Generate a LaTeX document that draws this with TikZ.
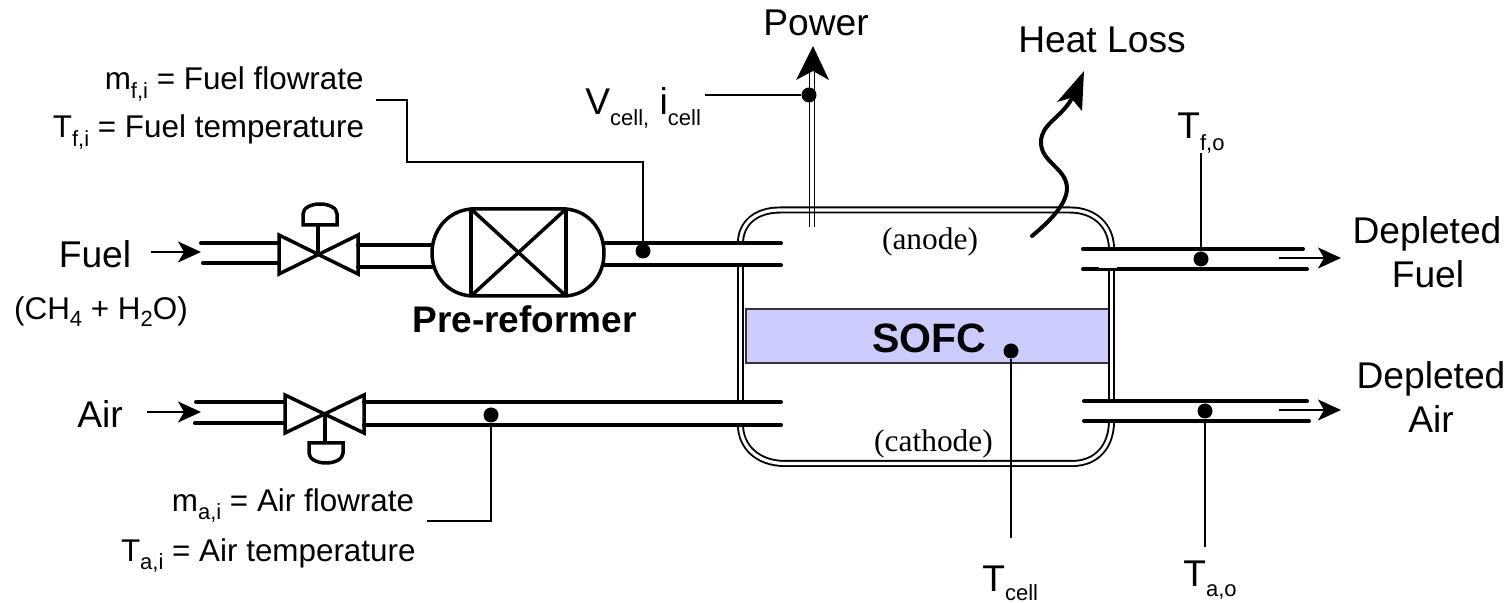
\documentclass[tikz,border=0pt]{standalone}
\usepackage{fontspec}
\usepackage{tikz}
\usetikzlibrary{arrows.meta}
\setmainfont{Liberation Sans}
\newfontfamily\serifpart{Liberation Serif}
\newcommand{\subtxt}[2][4.7pt]{\raisebox{-#1}{\fontsize{11}{11}\selectfont #2}}
\definecolor{cellblue}{HTML}{CCCCFF}
\tikzset{
    bigtext/.style={inner sep=0pt, anchor=base, font=\fontsize{18.6}{21}\selectfont},
    smalltext/.style={inner sep=0pt, anchor=base east, font=\fontsize{15.7}{17}\selectfont},
    zonetext/.style={inner sep=0pt, anchor=base, font=\serifpart\fontsize{15.7}{17}\selectfont},
    tagtext/.style={bigtext, anchor=base west},
    pipe/.style={line width=2pt, line cap=round},
    equip/.style={line width=1.75pt, line join=miter},
    signal/.style={line width=1pt},
    wall/.style={line width=.95pt, double, double distance=1.6pt},
    flow/.style={line width=1pt, -{Stealth[length=11.5pt, width=10.5pt, inset=3pt]}},
    probe/.style={circle, fill=black, inner sep=0pt, minimum size=7.5pt},
}
\begin{document}
\begin{tikzpicture}[x=.5pt, y=-.5pt]
    \useasboundingbox (0,0) rectangle (1511,603);

    % cell
    \node (stack) at (927.5,336) [draw=black!80, line width=.75pt, fill=cellblue, inner sep=0pt, minimum width=181.5pt, minimum height=27pt] {};
    \node (SOFC) at (929.5,353) [inner sep=0pt, anchor=base, font=\bfseries\fontsize{20.5}{22}\selectfont] {SOFC};
    \draw[wall] (740.5,243) .. controls (740.5,224) and (755,210) .. (780,210) -- (1070,210) .. controls (1095,210) and (1111.5,226) .. (1111.5,249);
    \draw[wall] (740.5,265) -- (740.5,403);
    \draw[wall] (1111.5,269) -- (1111.5,401);
    \draw[wall] (740.5,425) .. controls (740.5,446) and (757,463.5) .. (785,463.5) -- (1072,463.5) .. controls (1097,463.5) and (1111.5,446) .. (1111.5,421);

    % fuel line
    \draw[pipe] (201,243) -- (279,243);
    \draw[pipe] (203,263) -- (279,263);
    \draw[pipe] (358,245) -- (432,245);
    \draw[pipe] (358,267) -- (432,267);
    \draw[pipe] (604,243.5) -- (781,243.5);
    \draw[pipe] (604,265.5) -- (781,265.5);

    % fuel valve
    \draw[equip] (279,235) -- (358,274) -- (358,235) -- (279,274) -- cycle;
    \draw[equip] (318,254) -- (318,225);
    \draw[equip] (303,225) -- (337,225) -- (337,214) .. controls (337,208) and (329,204) .. (320,204) .. controls (311,204) and (303,208) .. (303,214) -- cycle;

    % pre-reformer
    \draw[equip] (471,209) .. controls (447,211) and (432,231) .. (432,253) .. controls (432,275) and (447,294) .. (471,296) -- (566,296) .. controls (590,294) and (604,275) .. (604,253) .. controls (604,231) and (590,211) .. (566,209) -- cycle;
    \draw[equip] (471,209) -- (471,296);
    \draw[equip] (566,209) -- (566,296);
    \draw[equip] (471,209) -- (566,296);
    \draw[equip] (566,209) -- (471,296);

    % air line
    \draw[pipe] (196,402) -- (285,402);
    \draw[pipe] (195,423) -- (285,423);
    \draw[pipe] (364,402) -- (781,402);
    \draw[pipe] (364,425) -- (781,425);

    % air valve
    \draw[equip] (285,395) -- (364,433) -- (364,395) -- (285,433) -- cycle;
    \draw[equip] (325,414) -- (325,443);
    \draw[equip] (309,443) -- (343,443) -- (343,453) .. controls (343,459) and (335,463) .. (326,463) .. controls (317,463) and (309,459) .. (309,453) -- cycle;

    % outlets
    \draw[pipe] (1083,249) -- (1303,249);
    \draw[pipe] (1083,269) -- (1307,269);
    \fill[white] (1099,265.5) rectangle (1117,268);
    \draw[pipe] (1084,401) -- (1307,401);
    \draw[pipe] (1084,421) -- (1309,421);

    % labels
    \node (Power) at (816,36) [bigtext] {Power};
    \node (HeatLoss) at (1102,53) [bigtext] {Heat Loss};
    \node (Fuel) at (95,268) [bigtext] {Fuel};
    \node (FuelMix) at (101,320) [bigtext, font=\fontsize{15.7}{17}\selectfont] {(CH\subtxt[3.5pt]{4} + H\subtxt[3.5pt]{2}O)};
    \node (Air) at (100,428) [bigtext] {Air};
    \node (Reformer) at (524.5,333) [bigtext, font=\bfseries\fontsize{18.5}{21}\selectfont] {Pre-reformer};
    \node (anode) at (930,250) [zonetext] {(anode)};
    \node (cathode) at (933.5,452) [zonetext] {(cathode)};
    \node (DepFuelA) at (1427,244) [bigtext] {Depleted};
    \node (DepFuelB) at (1428,288) [bigtext] {Fuel};
    \node (DepAirA) at (1431,389) [bigtext] {Depleted};
    \node (DepAirB) at (1431,433) [bigtext] {Air};

    \node (mfi) at (364,90) [smalltext] {m\subtxt[4.5pt]{f,i} = Fuel flowrate};
    \node (Tfi) at (364.5,138) [smalltext] {T\subtxt[4.5pt]{f,i} = Fuel temperature};
    \node (mai) at (414.5,512) [smalltext] {m\subtxt[3.7pt]{a,i} = Air flowrate};
    \node (Tai) at (416,562) [smalltext] {T\subtxt[3.7pt]{a,i} = Air temperature};
    \node (Vcell) at (585,115) [tagtext] {V\subtxt[5.5pt]{cell,} i\subtxt[5.5pt]{cell}};
    \node (Tfo) at (1177,139) [tagtext] {T\subtxt[6pt]{f,o}};
    \node (Tcell) at (982,591.5) [tagtext] {T\subtxt{cell}};
    \node (Tao) at (1183,587) [tagtext] {T\subtxt{a,o}};

    % probes
    \node (dotFuel) at (643,251) [probe] {};
    \node (dotAir) at (491,415) [probe] {};
    \node (dotPower) at (809,95) [probe] {};
    \node (dotCell) at (1011,351) [probe] {};
    \node (dotFo) at (1201,259) [probe] {};
    \node (dotAo) at (1205,411) [probe] {};

    \coordinate (fuelTag) at (376,100);
    \coordinate (fuelBend) at (407,162);
    \coordinate (airTag) at (427,521);
    \coordinate (powerTag) at (705,95);
    \coordinate (foTop) at (1201,153);
    \coordinate (aoEnd) at (1205,547);
    \coordinate (cellEnd) at (1011,538);

    \draw[signal] (fuelTag) -| (fuelBend) -| (dotFuel);
    \draw[signal] (dotAir) |- (airTag);
    \draw[signal] (powerTag) -- (dotPower);
    \draw[signal] (dotCell) -- (cellEnd);
    \draw[signal] (foTop) -- (dotFo);
    \draw[signal] (dotAo) -- (aoEnd);

    % flows
    \coordinate (fuelFrom) at (151,252);
    \coordinate (fuelTo) at (201,252);
    \coordinate (airFrom) at (147,412);
    \coordinate (airTo) at (201,412);
    \coordinate (exFuelFrom) at (1279,258);
    \coordinate (exFuelTo) at (1341,258);
    \coordinate (exAirFrom) at (1279,410);
    \coordinate (exAirTo) at (1341,410);
    \draw[flow] (fuelFrom) -- (fuelTo);
    \draw[flow] (airFrom) -- (airTo);
    \draw[flow] (exFuelFrom) -- (exFuelTo);
    \draw[flow] (exAirFrom) -- (exAirTo);

    % power
    \coordinate (powerBase) at (812,227);
    \coordinate (powerNeck) at (812,72);
    \coordinate (powerTip) at (813,46);
    \draw[line width=.95pt] ([xshift=-1.25pt]powerBase) -- ([xshift=-1.25pt]powerNeck);
    \draw[line width=.95pt] ([xshift=1.25pt]powerBase) -- ([xshift=1.25pt]powerNeck);
    \fill (powerTip) -- (829,80) -- (813,71) -- (796,80) -- cycle;

    % heat
    \draw[line width=2pt, line cap=round] (1032,236) .. controls (1056,216) and (1071,198) .. (1066,182) .. controls (1061,166) and (1040,160) .. (1041,141) .. controls (1042,124) and (1060,118) .. (1071,100);
    \fill (1084,71) -- (1082,111) -- (1071,98) -- (1057,102) -- cycle;
\end{tikzpicture}
\end{document}
